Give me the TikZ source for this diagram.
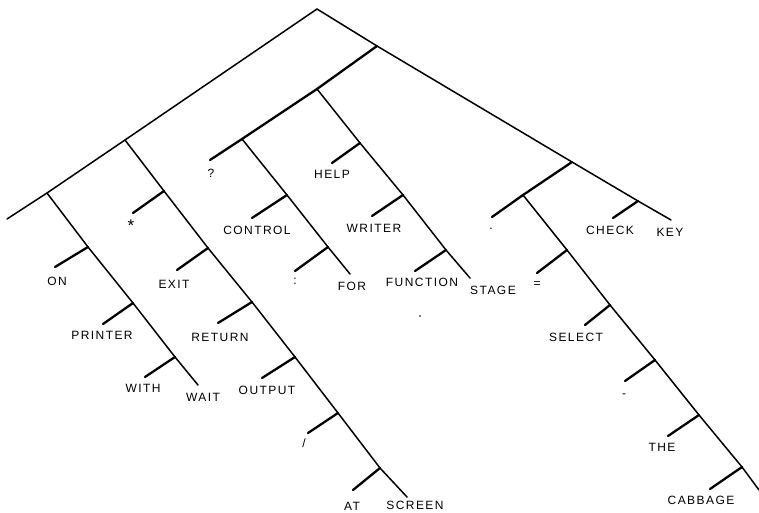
\documentclass[tikz,border=0pt]{standalone}
\usepackage{fontspec}
\newfontfamily\plotfont[LetterSpace=12]{Liberation Sans}

\begin{document}
\begin{tikzpicture}[x=1pt,y=-1pt,
  branch/.style={line width=1.5pt, line cap=round},
  stub/.style={line width=2.3pt, line cap=round},
  word/.style={font=\plotfont\fontsize{12}{14}\selectfont, inner sep=0pt,
     text height=9pt, text depth=0pt}]
  \useasboundingbox (0,0) rectangle (759,513);
  % joints of the tree
  \coordinate (root) at (317,9);
  \coordinate (l1) at (125,140);
  \coordinate (l2) at (47,193);
  \coordinate (l0) at (7,219);
  \coordinate (r1) at (377,46);
  \coordinate (q1) at (317,89);
  \coordinate (q2) at (242,139);
  \coordinate (qe) at (210,160);
  \coordinate (s1) at (572,162);
  \coordinate (s2) at (638,201);
  \coordinate (ke) at (671,220);
  \coordinate (t1) at (523,195);
  \coordinate (te) at (492,217);
  % left spine chains
  \coordinate (a1) at (88,247);  \coordinate (a2) at (133,303);
  \coordinate (a3) at (175,357); \coordinate (a4) at (198,385);
  \coordinate (b1) at (164,191); \coordinate (b2) at (208,248);
  \coordinate (b3) at (252,302); \coordinate (b4) at (295,357);
  \coordinate (b5) at (338,413); \coordinate (b6) at (380,468);
  \coordinate (b7) at (407,497);
  \coordinate (c1) at (360,143); \coordinate (c2) at (403,195);
  \coordinate (c3) at (446,250); \coordinate (c4) at (470,278);
  \coordinate (d1) at (287,195); \coordinate (d2) at (328,247);
  \coordinate (d3) at (350,274);
  \coordinate (e1) at (567,250); \coordinate (e2) at (610,305);
  \coordinate (e3) at (655,360); \coordinate (e4) at (699,415);
  \coordinate (e5) at (742,467); \coordinate (e6) at (759,490);
  % stub ends
  \coordinate (a1x) at (55,267);  \coordinate (a2x) at (103,324);
  \coordinate (a3x) at (145,377);
  \coordinate (b1x) at (133,213); \coordinate (b2x) at (177,270);
  \coordinate (b3x) at (218,323); \coordinate (b4x) at (262,378);
  \coordinate (b5x) at (308,433); \coordinate (b6x) at (353,490);
  \coordinate (c1x) at (332,163); \coordinate (c2x) at (372,216);
  \coordinate (c3x) at (415,271);
  \coordinate (d1x) at (252,218); \coordinate (d2x) at (295,271);
  \coordinate (s2x) at (613,218);
  \coordinate (e1x) at (537,273); \coordinate (e2x) at (585,325);
  \coordinate (e3x) at (625,381); \coordinate (e4x) at (668,436);
  \coordinate (e5x) at (710,489);

  % branches
  \draw[branch] (l0) -- (l2) -- (l1) -- (root) -- (r1) -- (s1) -- (s2) -- (ke);
  \draw[stub] (r1) -- (q1) -- (q2) -- (qe);
  \draw[stub] (s1) -- (t1) -- (te);
  \draw[branch] (l2) -- (a1) -- (a2) -- (a3) -- (a4);
  \draw[branch] (l1) -- (b1) -- (b2) -- (b3) -- (b4) -- (b5) -- (b6) -- (b7);
  \draw[branch] (q1) -- (c1) -- (c2) -- (c3) -- (c4);
  \draw[branch] (q2) -- (d1) -- (d2) -- (d3);
  \draw[branch] (t1) -- (e1) -- (e2) -- (e3) -- (e4) -- (e5) -- (e6);
  \draw[stub] (a1) -- (a1x);  \draw[stub] (a2) -- (a2x);  \draw[stub] (a3) -- (a3x);
  \draw[stub] (b1) -- (b1x);  \draw[stub] (b2) -- (b2x);  \draw[stub] (b3) -- (b3x);
  \draw[stub] (b4) -- (b4x);  \draw[stub] (b5) -- (b5x);  \draw[stub] (b6) -- (b6x);
  \draw[stub] (c1) -- (c1x);  \draw[stub] (c2) -- (c2x);  \draw[stub] (c3) -- (c3x);
  \draw[stub] (d1) -- (d1x);  \draw[stub] (d2) -- (d2x);
  \draw[stub] (s2) -- (s2x);
  \draw[stub] (e1) -- (e1x);  \draw[stub] (e2) -- (e2x);  \draw[stub] (e3) -- (e3x);
  \draw[stub] (e4) -- (e4x);  \draw[stub] (e5) -- (e5x);

  % words
  \node[word] (on)      at (57,281)  {ON};
  \node[word] (printer) at (102,335) {PRINTER};
  \node[word] (with)    at (143,388) {WITH};
  \node[word] (wait)    at (203,397) {WAIT};
  \node[word] (star)    at (131,223) {\fontsize{17}{17}\selectfont\raisebox{-3.5pt}{*}};
  \node[word] (exit)    at (174,284) {EXIT};
  \node[word] (return)  at (220,337) {RETURN};
  \node[word] (output)  at (267,390) {OUTPUT};
  \node[word] (slash)   at (304,443) {/};
  \node[word] (at)      at (352,506) {AT};
  \node[word] (screen)  at (415,505) {SCREEN};
  \node[word] (quest)   at (211,173) {?};
  \node[word] (control) at (257,230) {CONTROL};
  \node[word] (colon)   at (295,280) {:};
  \node[word] (for)     at (352,286) {FOR};
  \node[word] (help)    at (332,174) {HELP};
  \node[word] (writer)  at (374,228) {WRITER};
  \node[word] (func)    at (422,282) {FUNCTION};
  \node[word] (stage)   at (493,290) {STAGE};
  \node[word] (period)  at (491,225) {.};
  \node[word] (equals)  at (537,283) {=};
  \node[word] (select)  at (576,337) {SELECT};
  \node[word] (dash)    at (624,393) {-};
  \node[word] (the)     at (662,447) {THE};
  \node[word] (cabbage) at (701,500) {CABBAGE};
  \node[word] (check)   at (610,230) {CHECK};
  \node[word] (key)     at (670,232) {KEY};
  \fill (420,316) circle (0.8pt);
\end{tikzpicture}
\end{document}
